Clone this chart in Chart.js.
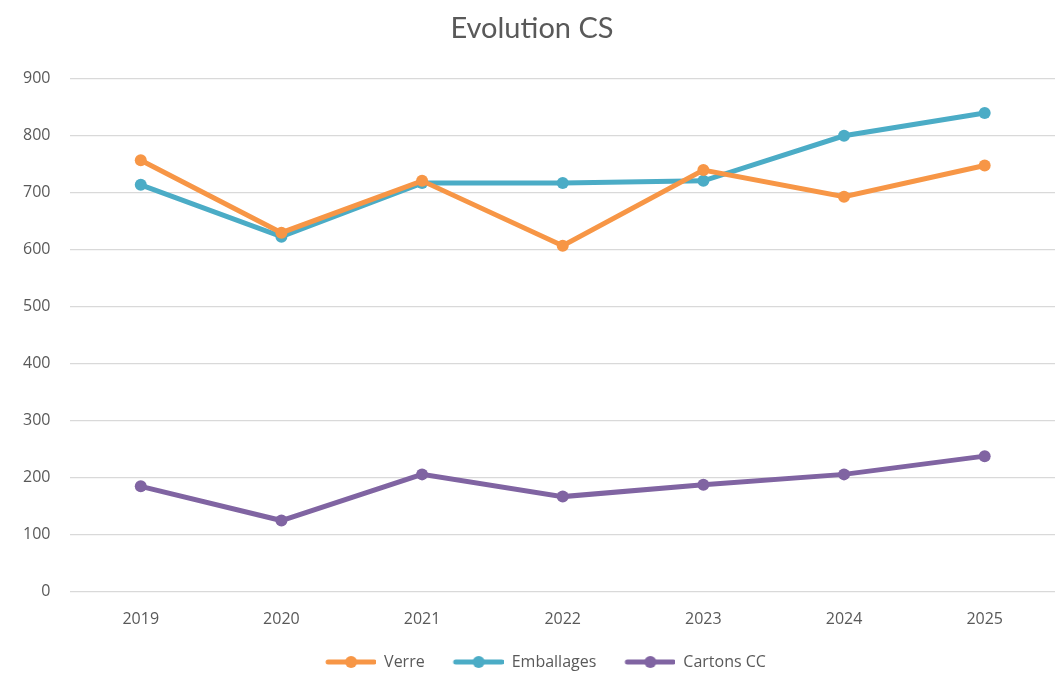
<!DOCTYPE html>
<html>
<head>
<meta charset="utf-8">
<script src="https://cdn.jsdelivr.net/npm/chart.js@4"></script>
<style>
  body { margin: 0; background: #fff; }
  canvas { display: block; }
</style>
</head>
<body>
<canvas id="myChart" width="1061" height="673"></canvas>
<script>
const years = ["2019", "2020", "2021", "2022", "2023", "2024", "2025"];
const verre = [757, 630, 721, 607, 740, 693, 748];
const emballages = [714, 623, 717, 717, 721, 800, 840];
const cartons = [185, 125, 206, 167, 188, 206, 238];
const yTicks = [0, 100, 200, 300, 400, 500, 600, 700, 800, 900];

const ctx = document.getElementById("myChart");
const textColor = "#595959";
const tickFont = { family: "Open Sans", size: 16 };

// line + dot marker for the legend, with some room on the left between items
function legendMarker(color) {
  const c = document.createElement("canvas");
  c.width = 78;
  c.height = 14;
  const g = c.getContext("2d");
  g.strokeStyle = color;
  g.lineWidth = 5;
  g.lineCap = "round";
  g.beginPath();
  g.moveTo(30, 7);
  g.lineTo(76, 7);
  g.stroke();
  g.fillStyle = color;
  g.beginPath();
  g.arc(53, 7, 6, 0, Math.PI * 2);
  g.fill();
  return c;
}

function makeSet(label, data, color) {
  return {
    label: label,
    data: data,
    borderColor: color,
    backgroundColor: color,
    borderWidth: 5,
    pointRadius: 6,
    pointHoverRadius: 6,
    pointBorderWidth: 0,
    tension: 0,
    marker: legendMarker(color),
  };
}

new Chart(ctx, {
  type: "line",
  data: {
    labels: years,
    datasets: [
      makeSet("Verre", verre, "#F79646"),
      makeSet("Emballages", emballages, "#4BACC6"),
      makeSet("Cartons CC", cartons, "#8064A2"),
    ],
  },
  options: {
    responsive: false,
    animation: false,
    layout: { padding: { left: 3, right: 0, top: 0, bottom: -7 } },
    plugins: {
      title: {
        display: true,
        text: "Evolution CS",
        color: textColor,
        font: { family: "Lato", size: 29, weight: "normal" },
        padding: { top: 11, bottom: 33 },
      },
      legend: {
        position: "bottom",
        labels: {
          color: textColor,
          font: { family: "Open Sans", size: 16 },
          usePointStyle: true,
          pointStyleWidth: 78,
          boxHeight: 14,
          padding: 1,
          generateLabels: (chart) =>
            chart.data.datasets.map((ds, i) => ({
              text: ds.label,
              pointStyle: ds.marker,
              fillStyle: ds.borderColor,
              strokeStyle: ds.borderColor,
              lineWidth: 0,
              fontColor: textColor,
              datasetIndex: i,
            })),
        },
      },
      tooltip: { enabled: false },
    },
    scales: {
      x: {
        offset: true,
        grid: { display: false },
        border: { display: false },
        ticks: { color: textColor, font: tickFont, padding: 10 },
        // extra room between the year labels and the legend
        afterFit: (axis) => {
          axis.height += 14;
        },
      },
      y: {
        min: 0,
        max: 900,
        afterBuildTicks: (axis) => {
          axis.ticks = yTicks.map((v) => ({ value: v }));
        },
        grid: { color: "#d9d9d9", lineWidth: 1.3, drawTicks: false },
        border: { display: false },
        ticks: { color: textColor, font: tickFont, padding: 20 },
      },
    },
  },
});
</script>
</body>
</html>
